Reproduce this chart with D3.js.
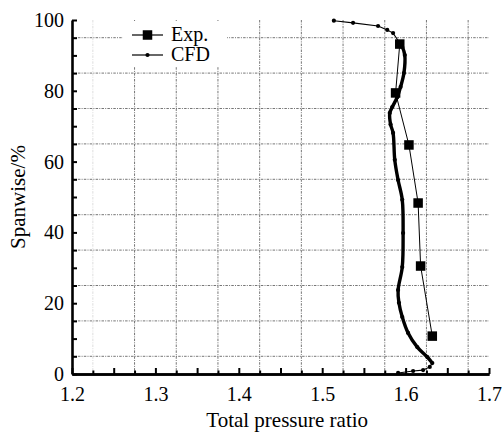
<!DOCTYPE html>
<html>
<head>
<meta charset="utf-8">
<script src="https://cdn.jsdelivr.net/npm/d3@7"></script>
<style>
  body { margin: 0; background: #fff; }
  svg { display: block; }
</style>
</head>
<body>
<svg id="chart" width="502" height="432"></svg>
<script>
// 데이터
const expRatio = [1.593, 1.588, 1.604, 1.615, 1.618, 1.632];
const expSpan  = [93.2, 79.4, 64.7, 48.3, 30.5, 10.7];

const cfdRatio = [1.514, 1.537, 1.567, 1.578, 1.585, 1.593, 1.596, 1.599, 1.598, 1.594,
                  1.590, 1.584, 1.581, 1.582, 1.585, 1.587, 1.591, 1.596, 1.597, 1.596,
                  1.591, 1.592, 1.596, 1.603, 1.614, 1.626, 1.632, 1.629, 1.621, 1.609, 1.591];
const cfdSpan  = [99.8, 99.2, 98.3, 97.2, 96.3, 93.5, 92.4, 90.1, 85.0, 81.1,
                  78.2, 75.4, 73.7, 70.5, 68.1, 60.5, 54.8, 49.2, 39.8, 30.2,
                  23.7, 20.1, 16.1, 11.6, 7.6, 4.8, 3.1, 2.0, 1.1, 0.85, 0.3];

const xTickLabels = [1.2, 1.3, 1.4, 1.5, 1.6, 1.7];
const yTickLabels = [0, 20, 40, 60, 80, 100];
const xGridValues = [1.225, 1.275, 1.325, 1.375, 1.425, 1.475, 1.525, 1.575, 1.625, 1.675];
const yGridValues = [5, 15, 25, 35, 45, 55, 65, 75, 85, 95];
const seriesNames = ["Exp.", "CFD"];

const fontFamily = "'Liberation Serif', 'Times New Roman', serif";
const fontSize = "20px";
const titleSize = "21px";

// SVG 및 마진 설정
const svg = d3.select("#chart").style("font-family", fontFamily);
const margin = { top: 20, right: 13, bottom: 58, left: 72 };
const width = +svg.attr("width") - margin.left - margin.right;
const height = +svg.attr("height") - margin.top - margin.bottom;
const g = svg.append("g").attr("transform", `translate(${margin.left},${margin.top})`);

const x = d3.scaleLinear().domain([1.2, 1.7]).range([0, width]);
const y = d3.scaleLinear().domain([0, 100]).range([height, 0]);

// 그리드
const gridDash = "2.5,1.2,1,1.2";
g.append("g").selectAll("line")
  .data(yGridValues)
  .enter().append("line")
  .attr("x1", 0).attr("x2", width)
  .attr("y1", d => y(d)).attr("y2", d => y(d))
  .attr("stroke", "#666").attr("stroke-width", 0.9)
  .attr("stroke-dasharray", gridDash);

g.append("g").selectAll("line")
  .data(xGridValues)
  .enter().append("line")
  .attr("x1", d => x(d)).attr("x2", d => x(d))
  .attr("y1", 0).attr("y2", height)
  .attr("stroke", "#666").attr("stroke-width", 0.9)
  .attr("stroke-opacity", (d, i) => i === 0 ? 0.25 : 1)
  .attr("stroke-dasharray", gridDash);

// 데이터 변환
const expData = expRatio.map((v, i) => ({ x: v, y: expSpan[i] }));
const cfdData = cfdRatio.map((v, i) => ({ x: v, y: cfdSpan[i] }));

const line = d3.line().x(d => x(d.x)).y(d => y(d.y));
const smoothLine = d3.line().x(d => x(d.x)).y(d => y(d.y)).curve(d3.curveCatmullRom);

// CFD: 얇은 선 + 조밀한 구간은 굵게
g.append("path")
  .datum(cfdData)
  .attr("d", line)
  .attr("fill", "none").attr("stroke", "#000").attr("stroke-width", 1.1);

g.append("path")
  .datum(cfdData.filter(d => d.y <= 93.5 && d.y >= 3))
  .attr("d", smoothLine)
  .attr("fill", "none").attr("stroke", "#000").attr("stroke-width", 3.4)
  .attr("stroke-linejoin", "round");

g.append("g").selectAll("circle")
  .data(cfdData)
  .enter().append("circle")
  .attr("cx", d => x(d.x)).attr("cy", d => y(d.y))
  .attr("r", 2.1).attr("fill", "#000");

// Exp.
g.append("path")
  .datum(expData)
  .attr("d", line)
  .attr("fill", "none").attr("stroke", "#000").attr("stroke-width", 1);

const sq = 9.5;
g.append("g").selectAll("rect")
  .data(expData)
  .enter().append("rect")
  .attr("x", d => x(d.x) - sq / 2).attr("y", d => y(d.y) - sq / 2)
  .attr("width", sq).attr("height", sq)
  .attr("fill", "#000");

// 축
const xMinor = d3.range(1.225, 1.7, 0.05);
const xMajor = d3.range(1.2, 1.701, 0.05);

const xAxisG = g.append("g").attr("transform", `translate(0,${height})`);
xAxisG.append("g")
  .call(d3.axisBottom(x).tickValues(xMinor).tickSize(-3.5).tickSizeOuter(0).tickFormat(""));
xAxisG.append("g")
  .call(d3.axisBottom(x).tickValues(xMajor).tickSize(-6).tickSizeOuter(0)
    .tickPadding(13)
    .tickFormat(d => xTickLabels.some(v => Math.abs(v - d) < 1e-6) ? d3.format(".1f")(d) : ""));

const yAxisG = g.append("g")
  .call(d3.axisLeft(y).tickValues(d3.range(0, 100.1, 5)).tickSize(-5).tickSizeOuter(0)
    .tickPadding(8)
    .tickFormat(d => yTickLabels.includes(d) ? d : ""));

[xAxisG, yAxisG].forEach(a => {
  a.attr("font-family", fontFamily).attr("font-size", fontSize);
  a.selectAll("g").attr("font-family", fontFamily).attr("font-size", fontSize);
  a.selectAll(".domain").attr("stroke", "#000").attr("stroke-width", 2.6);
  a.selectAll(".tick line").attr("stroke", "#000").attr("stroke-width", 2);
  a.selectAll(".tick text").attr("fill", "#000");
});

// 축 제목
svg.append("text")
  .attr("x", margin.left + x(1.458)).attr("y", 427)
  .attr("text-anchor", "middle")
  .attr("font-family", fontFamily).attr("font-size", titleSize)
  .text("Total pressure ratio");

svg.append("text")
  .attr("transform", `translate(25,${margin.top + y(50)}) rotate(-90)`)
  .attr("text-anchor", "middle")
  .attr("font-family", fontFamily).attr("font-size", titleSize)
  .text("Spanwise/%");

// 범례
const legend = svg.append("g");
legend.append("rect")
  .attr("x", 123).attr("y", 21).attr("width", 104).attr("height", 45)
  .attr("fill", "#fff");

seriesNames.forEach((name, i) => {
  const ly = 35 + i * 20;
  legend.append("line")
    .attr("x1", 132).attr("x2", 163).attr("y1", ly).attr("y2", ly)
    .attr("stroke", "#000").attr("stroke-width", 1.2);
  if (i === 0) {
    legend.append("rect")
      .attr("x", 147.5 - sq / 2).attr("y", ly - sq / 2)
      .attr("width", sq).attr("height", sq).attr("fill", "#000");
  } else {
    legend.append("circle").attr("cx", 147.5).attr("cy", ly).attr("r", 2.1).attr("fill", "#000");
  }
  legend.append("text")
    .attr("x", 171).attr("y", ly + 6)
    .attr("font-family", fontFamily).attr("font-size", fontSize)
    .text(name);
});
</script>
</body>
</html>
